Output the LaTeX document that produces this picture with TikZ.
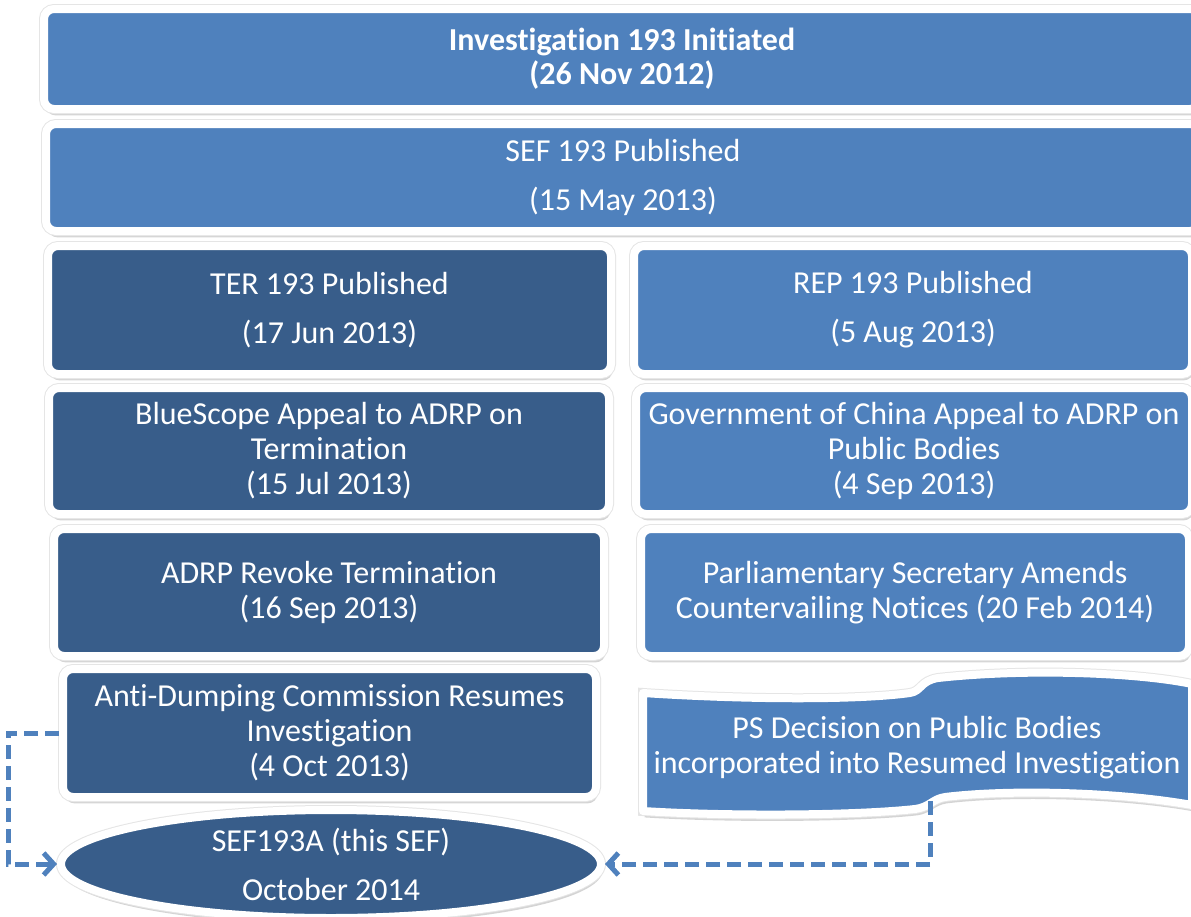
\documentclass[tikz,border=0pt]{standalone}
\usepackage{fontspec}
\setmainfont{Carlito}[RawFeature=-liga]
\usetikzlibrary{positioning,arrows.meta,shapes.geometric,shadows}
\definecolor{evlight}{HTML}{4F81BD}
\definecolor{evdark}{HTML}{385D8A}

\begin{document}
\begin{tikzpicture}[x=0.5pt,y=-0.5pt,
    font=\fontsize{16}{17.5}\selectfont,
    evshadow/.style={drop shadow={shadow xshift=0.8pt,shadow yshift=-3.2pt,fill=black!30,opacity=0.55},
      preaction={draw=black!10,line width=5pt}},
    evbox/.style={rectangle,rounded corners=5pt,draw=white,line width=4pt,text=white,align=center,inner sep=0pt,evshadow},
    lightbox/.style={evbox,fill=evlight},
    darkbox/.style={evbox,fill=evdark},
    link/.style={draw=evlight,line width=2.5pt,dash pattern=on 7pt off 3.5pt,-{Straight Barb[length=5pt,width=11pt]}},
  ]
  \useasboundingbox (0,0) rectangle (1191,917);
  \fill[white] (0,0) rectangle (1191,917);
  \clip (0,0) rectangle (1191,917);

  % full width rows
  \node[lightbox,font=\fontsize{16}{17}\selectfont\bfseries,minimum width=578pt,minimum height=50pt] (init) at (622,59) {Investigation 193 Initiated\\(26 Nov 2012)};
  \node[lightbox,minimum width=577pt,minimum height=53.5pt] (sef) at (623,177.5) {SEF 193 Published\\[7pt](15 May 2013)};

  % left column
  \node[darkbox,minimum width=281.5pt,minimum height=64pt] (ter) at (329.5,310) {TER 193 Published\\[7pt](17 Jun 2013)};
  \node[darkbox,minimum width=280pt,minimum height=63pt] (appealbs) at (329,451) {BlueScope Appeal to ADRP on\\Termination\\(15 Jul 2013)};
  \node[darkbox,minimum width=275pt,minimum height=63.5pt] (revoke) at (329,592.5) {ADRP Revoke Termination\\(16 Sep 2013)};
  \node[darkbox,minimum width=266.5pt,minimum height=64pt] (resume) at (329.5,733) {Anti-Dumping Commission Resumes\\Investigation\\(4 Oct 2013)};

  % right column
  \node[lightbox,minimum width=279pt,minimum height=64pt] (rep) at (913,310) {REP 193 Published\\[7pt](5 Aug 2013)};
  \node[lightbox,minimum width=278pt,minimum height=63pt] (appealgc) at (914,451) {Government of China Appeal to ADRP on\\Public Bodies\\(4 Sep 2013)};
  \node[lightbox,minimum width=274pt,minimum height=63.5pt] (amend) at (915,592.5) {Parliamentary Secretary Amends\\Countervailing Notices (20 Feb 2014)};

  % wave
  \path[fill=evlight,draw=white,line width=4pt,line join=round,evshadow]
    (643,693) .. controls (750,700) and (860,700) .. (910,693)
    .. controls (922,691) and (920,681) .. (938,678)
    .. controls (1030,668) and (1140,673) .. (1192,684)
    -- (1192,805)
    .. controls (1120,792) and (1010,789) .. (945,797)
    .. controls (932,799) and (930,807) .. (915,809)
    .. controls (850,816) and (720,816) .. (643,811)
    -- cycle;
  \node[text=white,align=center] (ps) at (917,748) {PS Decision on Public Bodies\\incorporated into Resumed Investigation};
  \coordinate (psfoot) at (930,801);

  \node[ellipse,draw=white,line width=4pt,fill=evdark,text=white,align=center,evshadow,minimum width=270pt,minimum height=54pt,inner sep=0pt] (sefa) at (331,864) {SEF193A (this SEF)\\[7pt]October 2014};

  \draw[link] (resume.west) -- ++(-51,0) |- (sefa.west);
  \draw[link] (psfoot) |- (sefa.east);
\end{tikzpicture}
\end{document}
